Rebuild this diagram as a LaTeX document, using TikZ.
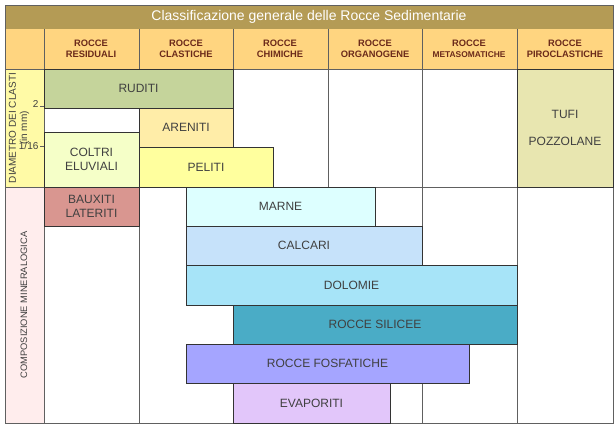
\documentclass[tikz,border=0pt]{standalone}
\usepackage{fontspec}
\setmainfont{Liberation Sans}
\usetikzlibrary{positioning}
\definecolor{titlebg}{HTML}{B49B55}
\definecolor{headbg}{HTML}{FFD580}
\definecolor{headtxt}{HTML}{6B2A1A}
\definecolor{txt}{HTML}{404040}
\definecolor{gridc}{HTML}{606060}
\definecolor{cruditi}{HTML}{C5D49B}
\definecolor{careniti}{HTML}{FFEDA8}
\definecolor{ccoltri}{HTML}{F5FFC8}
\definecolor{cpeliti}{HTML}{FFFF9E}
\definecolor{ctufi}{HTML}{E8E6B0}
\definecolor{cbauxiti}{HTML}{D99690}
\definecolor{cmarne}{HTML}{DDFFFF}
\definecolor{ccalcari}{HTML}{C6E2FA}
\definecolor{cdolomie}{HTML}{A7E4F8}
\definecolor{csilicee}{HTML}{4AACC6}
\definecolor{cfosfat}{HTML}{A5A5FF}
\definecolor{cevap}{HTML}{E2C6FA}
\tikzset{
  box/.style={draw=black!80,line width=0.6pt,inner sep=0pt,text=txt,font=\fontsize{9}{10}\selectfont,align=center},
  head/.style={font=\bfseries\fontsize{7}{8.5}\selectfont,text=headtxt,align=center},
}
% rock box from (x1,y1) to (x2,y2) in pixels
\newcommand{\rockbox}[7]{%
  \pgfmathsetmacro\bw{(#4-#2)*0.75}\pgfmathsetmacro\bh{(#5-#3)*0.75}%
  \node[box,fill=#6,minimum width=\bw pt,minimum height=\bh pt] (#1) at ({(#2+#4)/2},{(#3+#5)/2}) {#7};}
\begin{document}
\begin{tikzpicture}[x=0.75pt,y=-0.75pt]
  \useasboundingbox (0,0) rectangle (616,428);
  % title and header
  \fill[titlebg] (5,5) rectangle (613,29);
  \node[text=white,font=\fontsize{10.5}{12}\selectfont] (title) at (309,17) {Classificazione generale delle Rocce Sedimentarie};
  \fill[headbg] (5,29) rectangle (613,69);
  \foreach \x/\l [count=\i] in {91/{ROCCE\\RESIDUALI},186/{ROCCE\\CLASTICHE},280/{ROCCE\\CHIMICHE},375/{ROCCE\\ORGANOGENE},469/{ROCCE\\{\fontsize{6.3}{8.5}\selectfont METASOMATICHE}},565/{ROCCE\\PIROCLASTICHE}}
    \node[head] (h\i) at (\x,49) {\l};
  % side labels
  \fill[yellow!35] (5,69) rectangle (44,187);
  \fill[red!7] (5,187) rectangle (44,423);
  \node[rotate=90,text=txt,font=\fontsize{7.5}{8.5}\selectfont,align=center] (diam) at (19,128) {DIAMETRO DEI CLASTI\\(in mm)};
  \node[rotate=90,text=txt,font=\fontsize{7}{8}\selectfont] (comp) at (24,305) {COMPOSIZIONE MINERALOGICA};
  \draw[gridc] (40,106) -- (44,106) (40,146) -- (44,146);
  \node[left,text=txt,font=\fontsize{7.5}{8}\selectfont,inner sep=1pt] (t2) at (40,104) {2};
  \node[left,text=txt,font=\fontsize{7.5}{8}\selectfont,inner sep=1pt] (t16) at (40,146) {1/16};
  % grid
  \foreach \x in {44,139,233,328,422,517}
    \draw[gridc] (\x,29) -- (\x,423);
  \draw[gridc] (5,69) -- (613,69) (5,187) -- (613,187);
  \draw[gridc] (5,5) rectangle (613,423);
  % rock boxes
  \rockbox{ruditi}{44}{69}{233}{108}{cruditi}{RUDITI}
  \rockbox{areniti}{139}{108}{233}{147}{careniti}{ARENITI}
  \rockbox{coltri}{44}{132}{139}{187}{ccoltri}{COLTRI\\ELUVIALI}
  \rockbox{peliti}{139}{147}{273}{187}{cpeliti}{PELITI}
  \rockbox{tufi}{517}{69}{613}{187}{ctufi}{TUFI\\[10pt]POZZOLANE}
  \rockbox{bauxiti}{44}{187}{139}{226}{cbauxiti}{BAUXITI\\LATERITI}
  \rockbox{marne}{186}{187}{375}{226}{cmarne}{MARNE}
  \rockbox{calcari}{186}{226}{422}{265}{ccalcari}{CALCARI}
  \rockbox{dolomie}{186}{265}{517}{305}{cdolomie}{DOLOMIE}
  \rockbox{silicee}{233}{305}{517}{344}{csilicee}{ROCCE SILICEE}
  \rockbox{fosfat}{186}{344}{469}{383}{cfosfat}{ROCCE FOSFATICHE}
  \rockbox{evap}{233}{383}{390}{423}{cevap}{EVAPORITI}
\end{tikzpicture}
\end{document}
